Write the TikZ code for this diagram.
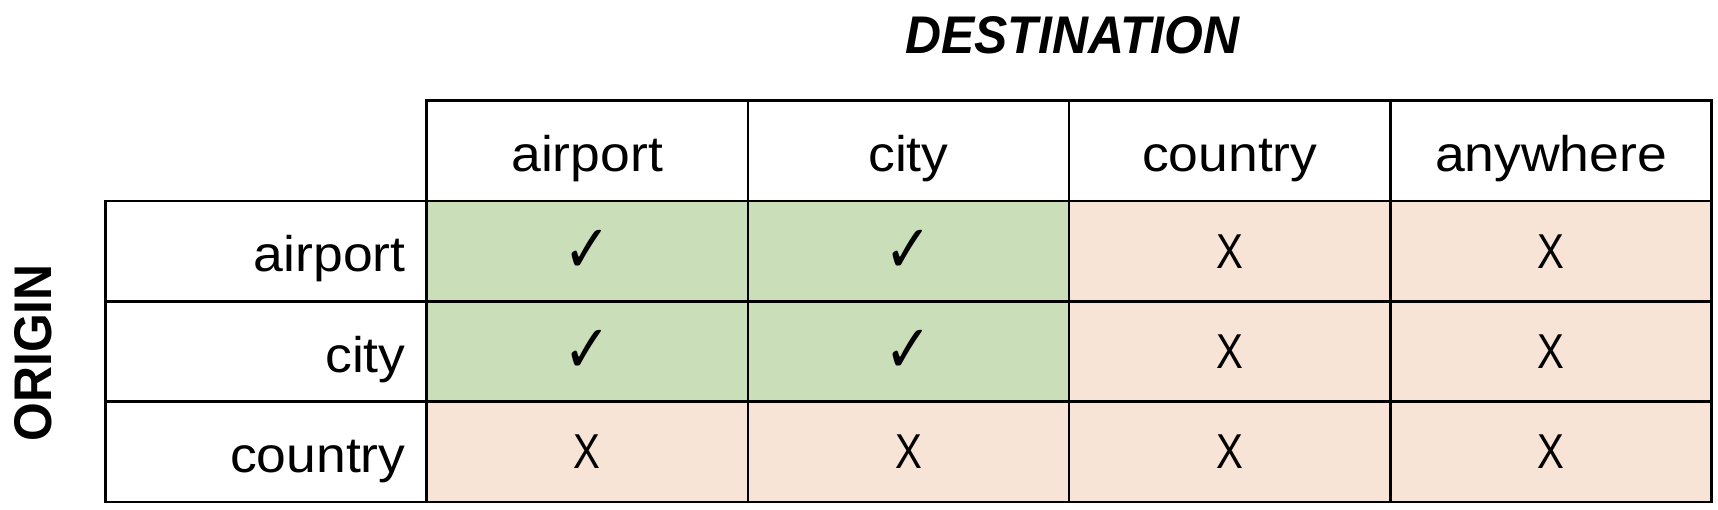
\documentclass[tikz,border=0pt]{standalone}
\usepackage{fontspec}
\setmainfont{Liberation Sans}
\newfontfamily\cellfont[FakeStretch=1.07]{Liberation Sans}
\newfontfamily\xfont[FakeStretch=0.82]{Liberation Sans}
\newfontfamily\titlefont[FakeStretch=0.94]{Liberation Sans}
\newfontfamily\symfont[FakeStretch=0.85]{DejaVu Sans}
\definecolor{okgreen}{RGB}{202,223,185}
\definecolor{nopeach}{RGB}{247,228,215}
\tikzset{
  cellbox/.style={draw=black, line width=2.6pt, minimum width=321.3pt, minimum height=100.3pt, inner sep=0pt, outer sep=0pt},
  wordlab/.style={font=\cellfont\fontsize{50}{50}\selectfont, text height=52pt, text depth=11pt},
  rowlab/.style={wordlab, text width=279.3pt, align=right},
  yes/.style={fill=okgreen, font=\symfont\fontsize{67}{67}\selectfont, text height=45pt, text depth=3pt},
  no/.style={fill=nopeach, font=\xfont\fontsize{49}{49}\selectfont},
  title/.style={font=\titlefont\bfseries\fontsize{53}{53}\selectfont, anchor=base, inner sep=0pt}
}
\begin{document}
\begin{tikzpicture}[x=1pt,y=-1pt]
\useasboundingbox (0,0) rectangle (1718,510);
% header row
\node[cellbox, wordlab] (hA) at (587.15,150.95) {airport};
\node[cellbox, wordlab] (hB) at (908.45,150.95) {city};
\node[cellbox, wordlab] (hC) at (1229.75,150.95) {country};
\node[cellbox, wordlab] (hD) at (1551.05,150.95) {anywhere};
% row labels
\node[cellbox, rowlab] (r1) at (265.85,251.25) {airport};
\node[cellbox, rowlab] (r2) at (265.85,351.55) {city};
\node[cellbox, rowlab] (r3) at (265.85,451.85) {country};
% row 1
\node[cellbox, yes] (c11) at (587.15,251.25) {✓};
\node[cellbox, yes] (c12) at (908.45,251.25) {✓};
\node[cellbox, no] (c13) at (1229.75,251.25) {X};
\node[cellbox, no] (c14) at (1551.05,251.25) {X};
% row 2
\node[cellbox, yes] (c21) at (587.15,351.55) {✓};
\node[cellbox, yes] (c22) at (908.45,351.55) {✓};
\node[cellbox, no] (c23) at (1229.75,351.55) {X};
\node[cellbox, no] (c24) at (1551.05,351.55) {X};
% row 3
\node[cellbox, no] (c31) at (587.15,451.85) {X};
\node[cellbox, no] (c32) at (908.45,451.85) {X};
\node[cellbox, no] (c33) at (1229.75,451.85) {X};
\node[cellbox, no] (c34) at (1551.05,451.85) {X};
% titles
\node[title, font=\titlefont\bfseries\itshape\fontsize{53}{53}\selectfont] (dest) at (1072.5,53.3) {DESTINATION};
\node[title, rotate=90] (orig) at (51,353) {ORIGIN};
\end{tikzpicture}
\end{document}
